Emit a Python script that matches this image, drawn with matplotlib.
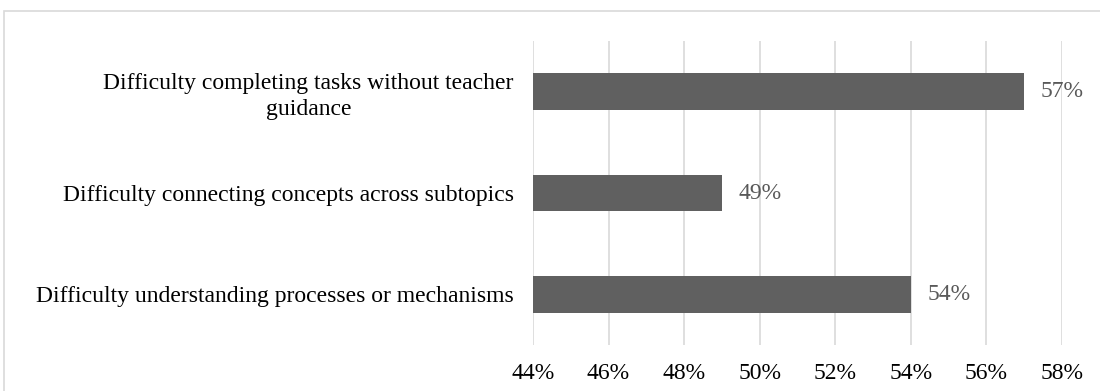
import matplotlib.pyplot as plt
from matplotlib.patches import Rectangle
from matplotlib.ticker import FuncFormatter

categories = ['Difficulty understanding processes or mechanisms',
              'Difficulty connecting concepts across subtopics',
              'Difficulty completing tasks without teacher\nguidance']
values = [54, 49, 57]
x_ticks = [44, 46, 48, 50, 52, 54, 56, 58]

plt.rcParams['font.family'] = ['Liberation Serif', 'DejaVu Serif']

fig = plt.figure(figsize=(11, 3.91), dpi=100)
ax = fig.add_axes([0.4845, 0.1176, 0.481, 0.7774])

# chart frame, cut off at right and bottom like the original
fig.patches.append(Rectangle((4 / 1100, -0.05), 1.2, 1 - 11 / 391 + 0.05,
                             transform=fig.transFigure, fill=False,
                             edgecolor='#d9d9d9', linewidth=1.2))

pos = range(len(categories))
ax.barh(pos, values, height=0.36, color='#606060', zorder=3)
for p, v in zip(pos, values):
    ax.annotate('%d%%' % v, (v, p), xytext=(12, 0), textcoords='offset points',
                va='center', ha='left', fontsize=17, color='#595959')

ax.set_xlim(44, 58)
ax.set_ylim(-0.5, 2.5)
ax.set_xticks(x_ticks)
ax.xaxis.set_major_formatter(FuncFormatter(lambda x, _: '%d%%' % x))
ax.set_yticks(list(pos))
ax.set_yticklabels(categories, fontsize=17, multialignment='center',
                   linespacing=1.3)
ax.tick_params(axis='y', length=0, pad=14)
ax.tick_params(axis='x', length=0, pad=13, labelsize=17)
ax.grid(axis='x', color='#d9d9d9', linewidth=1.2, zorder=0)
for s in ax.spines.values():
    s.set_visible(False)

fig.savefig('out.png', dpi=100)
